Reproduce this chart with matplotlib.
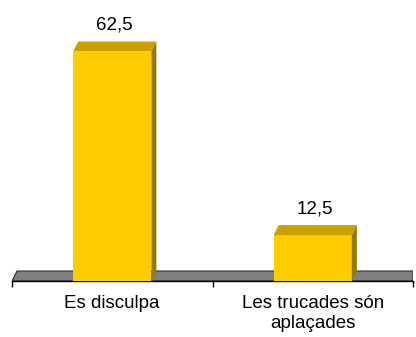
import matplotlib
matplotlib.use('Agg')
import matplotlib.pyplot as plt
from matplotlib.patches import Polygon
from matplotlib.transforms import ScaledTranslation
import numpy as np

plt.rcParams['font.family'] = ['Liberation Sans', 'DejaVu Sans']

categories = ['Es disculpa', 'Les trucades són\naplaçades']
values = [62.5, 12.5]
value_labels = ['62,5', '12,5']

FRONT = '#FFCC00'
TOP = '#C9A000'
SIDE = '#947800'
FLOOR = '#808080'

W, H, DPI = 416, 337, 100
fig = plt.figure(figsize=(W / DPI, H / DPI), dpi=DPI)
ax = fig.add_axes([12 / W, 56 / H, 401 / W, 257 / H])
ax.set_xlim(0, len(categories))
ax.set_ylim(0, 70)
for s in ['top', 'right', 'left']:
    ax.spines[s].set_visible(False)
ax.spines['bottom'].set_linewidth(1.0)
ax.set_yticks([])

# 3-D depth offset (pixels) converted to data units
inv = ax.transData.inverted()
p0 = inv.transform(ax.transData.transform((0, 0)))
p1 = inv.transform(ax.transData.transform((0, 0)) + np.array([5, 10]))
dx, dy = p1 - p0

# floor slab
n = len(categories)
floor = Polygon([(0, 0), (dx, dy), (n, dy), (n, 0)], closed=True,
                facecolor=FLOOR, edgecolor='#303030', linewidth=0.8, zorder=1)
ax.add_patch(floor)

x = np.arange(n) + 0.5
bw = 0.39
ax.bar(x, values, width=bw, color=FRONT, linewidth=0, zorder=3)
lift = ax.transData + ScaledTranslation(0, 12 / DPI, fig.dpi_scale_trans)
for xi, v, lbl in zip(x, values, value_labels):
    l, r = xi - bw / 2, xi + bw / 2
    ax.add_patch(Polygon([(l, v), (r, v), (r + dx, v + dy), (l + dx, v + dy)],
                         facecolor=TOP, linewidth=0, zorder=3))
    ax.add_patch(Polygon([(r, 0), (r, v), (r + dx, v + dy), (r + dx, dy)],
                         facecolor=SIDE, linewidth=0, zorder=3))
    ax.text(xi + dx / 2, v + dy, lbl, ha='center', va='baseline', fontsize=13.5,
            transform=lift)

ax.set_xticks(np.arange(n + 1))
ax.set_xticklabels([])
ax.tick_params(axis='x', which='major', length=4, width=1.0, direction='out')
ax.set_xticks(x, minor=True)
ax.set_xticklabels(categories, minor=True, fontsize=13.5, linespacing=1.25)
ax.tick_params(axis='x', which='minor', length=0, pad=10)
ax.patch.set_visible(False)

fig.savefig('out.png', dpi=DPI)
